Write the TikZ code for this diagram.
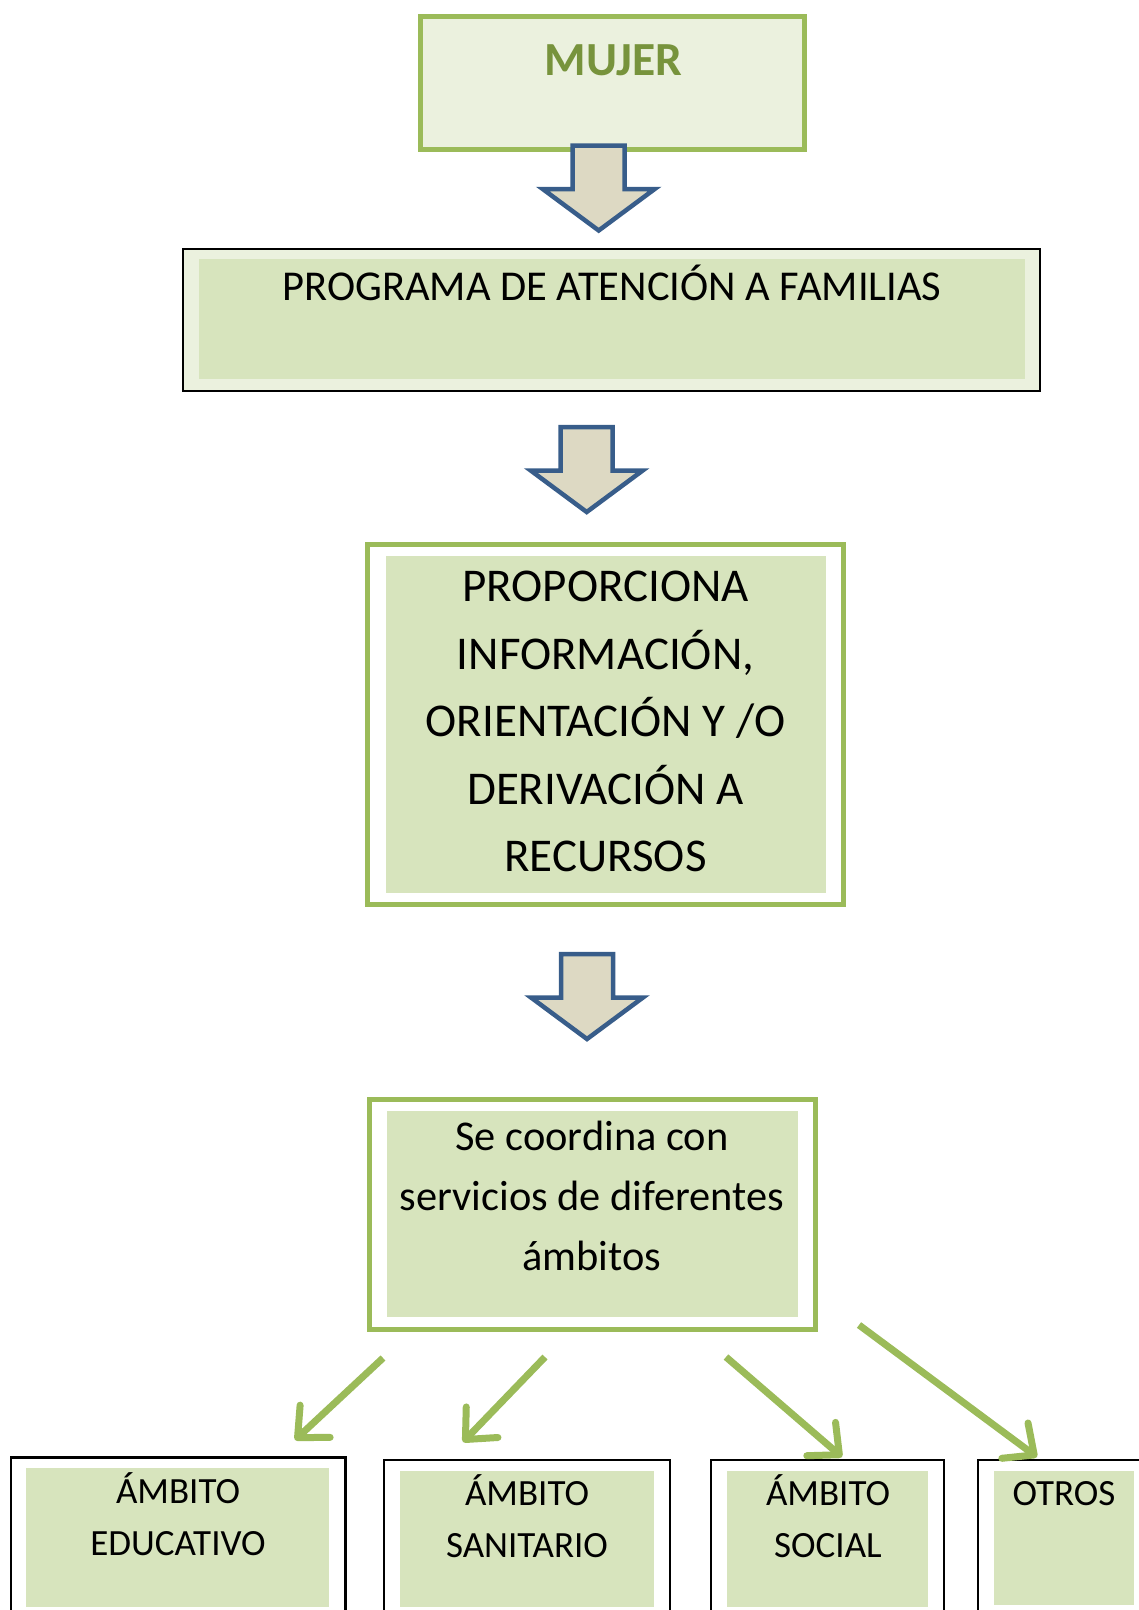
\documentclass[tikz,border=0pt]{standalone}
\usepackage{fontspec}
\setmainfont{Carlito}
\usetikzlibrary{arrows.meta}
\definecolor{gborder}{HTML}{9BBB59}
\definecolor{gfill}{HTML}{D7E4BD}
\definecolor{glight}{HTML}{EBF1DE}
\definecolor{gtext}{HTML}{77933C}
\definecolor{bstroke}{HTML}{385D8A}
\definecolor{bfill}{HTML}{DDD9C3}
\newcommand{\blockarrow}[2]{%
  \draw[barrow] ({#1-26},{#2}) -- ({#1+26},{#2}) -- ({#1+26},{#2+43.5}) -- ({#1+56},{#2+43.5})
    -- ({#1},{#2+85}) -- ({#1-56},{#2+43.5}) -- ({#1-26},{#2+43.5}) -- cycle;}
\newcommand{\txtlines}[3]{\parbox[t]{560pt}{\centering\fontsize{#1}{#2}\selectfont #3}}
\begin{document}
\begin{tikzpicture}[x=1pt,y=-1pt,
  greenbox/.style={draw=gborder,line width=5pt,inner sep=0pt,outer sep=0pt,anchor=north west},
  blackbox/.style={draw=black,line width=2.2pt,inner sep=0pt,outer sep=0pt,anchor=north west,fill=white},
  innerfill/.style={fill=gfill,draw=none,inner sep=0pt,outer sep=0pt,anchor=north west},
  txt/.style={inner sep=0pt,anchor=base},
  barrow/.style={draw=bstroke,fill=bfill,line width=4.5pt},
  garrow/.style={draw=gborder,line width=7pt,-{Straight Barb[length=24pt,width=44pt,round]}}]
\useasboundingbox (0,0) rectangle (1139,1610);
\clip (0,0) rectangle (1139,1610);

% MUJER
\node[greenbox,fill=glight,minimum width=384.5pt,minimum height=133pt] (mujer) at (420,16.5) {};
\node[txt,text=gtext,font=\fontsize{47.5}{57}\selectfont\bfseries] (mujert) at (613.5,75) {MUJER};
\blockarrow{598.7}{145.5}

% PROGRAMA
\node[blackbox,fill=glight,minimum width=857pt,minimum height=142pt] (prog) at (183,249) {};
\node[innerfill,minimum width=826pt,minimum height=120pt] (progin) at (199,259) {};
\node[txt,font=\fontsize{42.5}{51}\selectfont] (progt) at (612,300) {PROGRAMA DE ATENCIÓN A FAMILIAS};
\blockarrow{586.7}{427}

% PROPORCIONA
\node[greenbox,fill=white,minimum width=475.5pt,minimum height=360pt] (prop) at (367.5,544) {};
\node[innerfill,minimum width=440pt,minimum height=336.7pt] (propin) at (386,556) {};
\node[txt] (propt) at (605.5,601.7) {\txtlines{47}{67.5}{PROPORCIONA\\INFORMACIÓN,\\ORIENTACIÓN Y /O\\DERIVACIÓN A\\RECURSOS}};
\blockarrow{587}{954}

% Se coordina
\node[greenbox,fill=white,minimum width=446pt,minimum height=230pt] (coord) at (369,1099) {};
\node[innerfill,minimum width=411.3pt,minimum height=205.7pt] (coordin) at (386.7,1111) {};
\node[txt] (coordt) at (592,1150.7) {\txtlines{42.4}{59.7}{Se coordina con\\servicios de diferentes\\ámbitos}};

% bottom boxes
\node[blackbox,minimum width=334.5pt,minimum height=250pt] (edu) at (11,1457.5) {};
\node[innerfill,minimum width=303pt,minimum height=139pt] (eduin) at (26,1468) {};
\node[txt] (edut) at (178,1503) {\txtlines{37}{52}{ÁMBITO\\EDUCATIVO}};

\node[blackbox,minimum width=286pt,minimum height=250pt] (san) at (384,1460) {};
\node[innerfill,minimum width=254pt,minimum height=136pt] (sanin) at (400,1471) {};
\node[txt] (sant) at (527,1505) {\txtlines{37}{52}{ÁMBITO\\SANITARIO}};

\node[blackbox,minimum width=233pt,minimum height=250pt] (soc) at (711,1460) {};
\node[innerfill,minimum width=201pt,minimum height=136pt] (socin) at (727,1471) {};
\node[txt] (soct) at (828,1505) {\txtlines{37}{52}{ÁMBITO\\SOCIAL}};

\node[blackbox,minimum width=200pt,minimum height=250pt] (otr) at (978,1460) {};
\node[innerfill,minimum width=140pt,minimum height=134pt] (otrin) at (994,1471) {};
\node[txt] (otrt) at (1064,1505) {\txtlines{37}{52}{OTROS}};

% green connectors
\coordinate (a1s) at (383,1358); \coordinate (a1e) at (295,1440);
\coordinate (a2s) at (545,1357); \coordinate (a2e) at (463,1442);
\coordinate (a3s) at (726,1357); \coordinate (a3e) at (842,1457);
\coordinate (a4s) at (859,1325); \coordinate (a4e) at (1037,1457);
\draw[garrow] (a1s) -- (a1e);
\draw[garrow] (a2s) -- (a2e);
\draw[garrow] (a3s) -- (a3e);
\draw[garrow] (a4s) -- (a4e);
\end{tikzpicture}
\end{document}
